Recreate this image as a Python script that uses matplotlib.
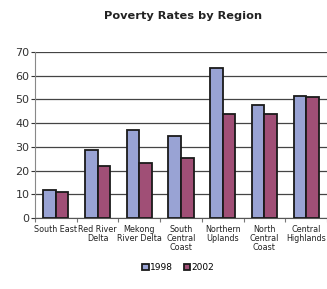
import numpy as np
import matplotlib
matplotlib.use("Agg")
import matplotlib.pyplot as plt

# ========== DATA ==========
regions = ["South East", "Red River\nDelta", "Mekong\nRiver Delta", "South\nCentral\nCoast",
           "Northern\nUplands", "North\nCentral\nCoast", "Central\nHighlands"]
rate_1998 = [12, 28.7, 37, 34.7, 63.4, 47.8, 51.5]
rate_2002 = [11, 22, 23, 25.3, 43.9, 43.9, 51.2]
years = ["1998", "2002"]
yticks = [0, 10, 20, 30, 40, 50, 60, 70]

COLOR_1998 = "#99a3d4"
COLOR_2002 = "#a04f76"

plt.rcParams['font.family'] = ['DejaVu Sans']

fig = plt.figure(figsize=(3.27, 2.89), dpi=100)
ax = fig.add_axes([0.107, 0.2457, 0.893, 0.5743])

x = np.arange(len(regions))
w = 0.3
ax.bar(x - w / 2, rate_1998, w, color=COLOR_1998, edgecolor="#1a1a1a", linewidth=1.3,
       label=years[0], zorder=3)
ax.bar(x + w / 2, rate_2002, w, color=COLOR_2002, edgecolor="#1a1a1a", linewidth=1.3,
       label=years[1], zorder=3)

ax.set_xlim(-0.5, len(regions) - 0.5)
ax.set_ylim(0, 70)
ax.set_yticks(yticks)
ax.yaxis.grid(True, color="#444444", linewidth=0.9, zorder=0)
ax.tick_params(axis="y", labelsize=8, colors="#333333", length=3, width=0.8, pad=1)

# category labels centered, separator ticks between
ax.set_xticks(x)
ax.set_xticklabels(regions, fontsize=5.8, color="#222222", linespacing=1.0)
ax.tick_params(axis="x", length=0, pad=5)
ax.set_xticks(np.arange(-0.5, len(regions)), minor=True)
ax.tick_params(axis="x", which="minor", length=3, width=0.8, color="#777777")

for s in ["top", "right"]:
    ax.spines[s].set_visible(False)
ax.spines["left"].set_color("#888888")
ax.spines["bottom"].set_color("#555555")

fig.text(0.56, 0.945, "Poverty Rates by Region", ha="center", va="center",
         fontsize=8.2, fontweight="bold", color="#222222")

fig.legend(loc="center", bbox_to_anchor=(0.545, 0.075), ncol=2, frameon=False,
           fontsize=6.5, handlelength=0.7, handleheight=0.7, handletextpad=0.15,
           columnspacing=1.2)

plt.savefig("out.png", dpi=100)
plt.close()
